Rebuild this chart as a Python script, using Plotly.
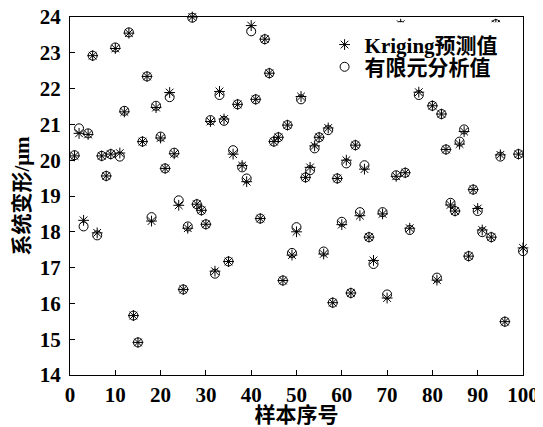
import plotly.graph_objects as go

sample_no = [1, 2, 3, 4, 5, 6, 7, 8, 9, 10, 11, 12, 13, 14, 15, 16, 17, 18, 19, 20,
             21, 22, 23, 24, 25, 26, 27, 28, 29, 30, 31, 32, 33, 34, 35, 36, 37, 38, 39, 40,
             41, 42, 43, 44, 45, 46, 47, 48, 49, 50, 51, 52, 53, 54, 55, 56, 57, 58, 59, 60,
             61, 62, 63, 64, 65, 66, 67, 69, 70, 72, 73, 74, 75, 77, 80,
             81, 82, 83, 84, 85, 86, 87, 88, 89, 90, 91, 93, 94, 95, 96, 99, 100]

kriging = [20.12, 20.75, 18.32, 20.72, 22.92, 17.97, 20.12, 19.56, 20.17, 23.12,
           20.20, 21.35, 23.55, 15.66, 14.91, 20.52, 22.34, 18.30, 21.47, 20.62,
           19.77, 21.89, 20.18, 18.74, 16.39, 18.10, 24.00, 18.77, 18.60, 18.21,
           21.08, 16.90, 21.92, 21.15, 17.17, 20.17, 21.56, 19.85, 19.40, 23.76,
           21.70, 18.37, 23.38, 22.43, 20.52, 20.64, 16.64, 20.98, 17.35, 18.00,
           21.78, 19.52, 19.80, 20.40, 20.64, 17.38, 20.90, 16.02, 19.49, 18.20,
           20.00, 16.29, 20.42, 18.45, 19.75, 17.85, 17.20, 18.50, 16.15, 19.55,
           23.80, 19.65, 18.10, 21.90, 21.52,
           16.65, 21.29, 20.30, 18.75, 18.58, 20.45, 20.80, 17.32, 19.18, 18.65,
           18.05, 17.85, 23.80, 20.15, 15.49, 20.17, 17.55]

fea = [20.14, 20.89, 18.15, 20.75, 22.92, 17.90, 20.12, 19.56, 20.17, 23.15,
       20.10, 21.38, 23.57, 15.66, 14.91, 20.52, 22.34, 18.41, 21.52, 20.66,
       19.77, 21.76, 20.21, 18.88, 16.39, 18.15, 23.98, 18.77, 18.60, 18.21,
       21.12, 16.83, 21.82, 21.10, 17.17, 20.28, 21.56, 19.80, 19.49, 23.60,
       21.70, 18.37, 23.38, 22.43, 20.52, 20.64, 16.64, 20.98, 17.41, 18.13,
       21.70, 19.52, 19.72, 20.33, 20.64, 17.45, 20.84, 16.02, 19.49, 18.28,
       19.91, 16.29, 20.42, 18.55, 19.86, 17.85, 17.10, 18.55, 16.25, 19.58,
       23.75, 19.65, 18.05, 21.82, 21.52,
       16.72, 21.29, 20.30, 18.81, 18.58, 20.52, 20.86, 17.32, 19.18, 18.58,
       17.99, 17.85, 23.80, 20.10, 15.49, 20.17, 17.46]

x_ticks = [0, 10, 20, 30, 40, 50, 60, 70, 80, 90, 100]
y_ticks = [14, 15, 16, 17, 18, 19, 20, 21, 22, 23, 24]

FONT = "Liberation Serif, Times New Roman, Noto Sans CJK SC, serif"

fig = go.Figure()
fig.add_trace(go.Scatter(
    x=sample_no, y=kriging, mode="markers", name="Kriging预测值",
    cliponaxis=False, legend="legend",
    marker=dict(symbol="asterisk-open", size=9, color="black",
                line=dict(color="black", width=1)),
))
fig.add_trace(go.Scatter(
    x=sample_no, y=fea, mode="markers", name="有限元分析值",
    cliponaxis=False, legend="legend2",
    marker=dict(symbol="circle-open", size=9, color="black",
                line=dict(color="black", width=1)),
))

# opaque legend background (the legend hides marks behind it)
fig.add_shape(type="rect", xref="paper", yref="paper",
              x0=0.56, x1=0.99, y0=0.826, y1=0.985,
              fillcolor="white", line=dict(width=0), layer="above")

axis_common = dict(
    showgrid=False, zeroline=False, showline=True, linecolor="black",
    linewidth=1.2, mirror=True, ticks="inside", ticklen=5, tickwidth=1.2,
    tickcolor="black", automargin=False, ticklabeloverflow="allow",
    tickfont=dict(family=FONT, size=21, color="black", weight="bold"),
)

legend_font = dict(family=FONT, size=21, color="black", weight="bold")

fig.update_layout(
    template="none",
    width=535, height=419,
    margin=dict(l=62, r=20, t=9, b=52),
    paper_bgcolor="white", plot_bgcolor="white",
    showlegend=True,
    legend=dict(
        x=0.562, y=0.922, xanchor="left", yanchor="middle",
        bgcolor="rgba(0,0,0,0)", borderwidth=0, itemwidth=30,
        font=legend_font,
    ),
    legend2=dict(
        x=0.562, y=0.860, xanchor="left", yanchor="middle",
        bgcolor="rgba(0,0,0,0)", borderwidth=0, itemwidth=30,
        font=legend_font,
    ),
    xaxis=dict(
        range=[0, 100], tickvals=x_ticks, ticklabelstandoff=1,
        title=dict(text="样本序号", standoff=9,
                   font=dict(family=FONT, size=21, color="black", weight="bold")),
        **axis_common,
    ),
    yaxis=dict(
        range=[14, 24], tickvals=y_ticks, ticklabelstandoff=4,
        title=dict(text="系统变形/μm", standoff=4,
                   font=dict(family=FONT, size=21, color="black", weight="bold")),
        **axis_common,
    ),
)

fig.write_html("out.html")
